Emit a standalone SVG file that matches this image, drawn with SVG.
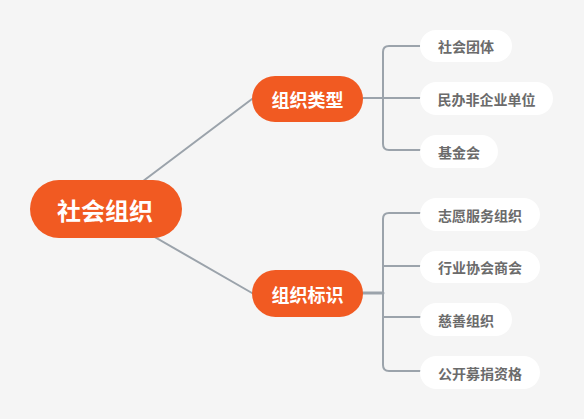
<svg xmlns="http://www.w3.org/2000/svg" width="584" height="419" viewBox="0 0 584 419">
<style>
.bg{fill:#f5f5f5}
.main{fill:#f15a22}
.leaf{fill:#ffffff}
.conn{fill:none;stroke:#9ba3ab;stroke-width:2;stroke-linecap:round;stroke-linejoin:round}
text{font-family:"Noto Sans CJK SC","Noto Sans",sans-serif;font-weight:bold;text-anchor:middle;dominant-baseline:central}
.t-root{fill:#ffffff;font-size:24px}
.t-mid{fill:#ffffff;font-size:18px}
.t-leaf{fill:#6b6b6b;font-size:14px}
</style>
<rect class="bg" x="0" y="0" width="584" height="419"/>
<g id="connectors">
<path class="conn" d="M106 209 L252 99"/>
<path class="conn" d="M106 209 L252 293"/>
<path class="conn" d="M363 98 H383"/>
<path class="conn" d="M422 46 H389 Q383 46 383 52 V144 Q383 150 389 150 H422"/>
<path class="conn" d="M383 98 H422"/>
<path class="conn" style="stroke-width:3" d="M363 293 H383"/>
<path class="conn" d="M422 213 H389 Q383 213 383 219 V365 Q383 371 389 371 H422"/>
<path class="conn" d="M383 266 H422"/>
<path class="conn" d="M383 317 H422"/>
</g>
<g id="root">
<rect class="main" x="30" y="180" width="152" height="58" rx="29"/>
<text class="t-root" x="105" y="209">社会组织</text>
</g>
<g id="type">
<rect class="main" x="252" y="76" width="111" height="46" rx="23"/>
<text class="t-mid" x="307.5" y="99">组织类型</text>
</g>
<g id="mark">
<rect class="main" x="252" y="270" width="111" height="47" rx="23.5"/>
<text class="t-mid" x="307.5" y="293.5">组织标识</text>
</g>
<g id="leaf1">
<rect class="leaf" x="420" y="30" width="92" height="32" rx="16"/>
<text class="t-leaf" x="466" y="46">社会团体</text>
</g>
<g id="leaf2">
<rect class="leaf" x="420" y="82" width="133" height="33" rx="16.5"/>
<text class="t-leaf" x="486.5" y="98.5">民办非企业单位</text>
</g>
<g id="leaf3">
<rect class="leaf" x="420" y="135" width="78" height="33" rx="16.5"/>
<text class="t-leaf" x="459" y="151.5">基金会</text>
</g>
<g id="leaf4">
<rect class="leaf" x="420" y="198" width="120" height="33" rx="16.5"/>
<text class="t-leaf" x="480" y="214.5">志愿服务组织</text>
</g>
<g id="leaf5">
<rect class="leaf" x="420" y="251" width="120" height="32" rx="16"/>
<text class="t-leaf" x="480" y="267">行业协会商会</text>
</g>
<g id="leaf6">
<rect class="leaf" x="420" y="303" width="92" height="33" rx="16.5"/>
<text class="t-leaf" x="466" y="319.5">慈善组织</text>
</g>
<g id="leaf7">
<rect class="leaf" x="420" y="356" width="120" height="33" rx="16.5"/>
<text class="t-leaf" x="480" y="372.5">公开募捐资格</text>
</g>
</svg>
